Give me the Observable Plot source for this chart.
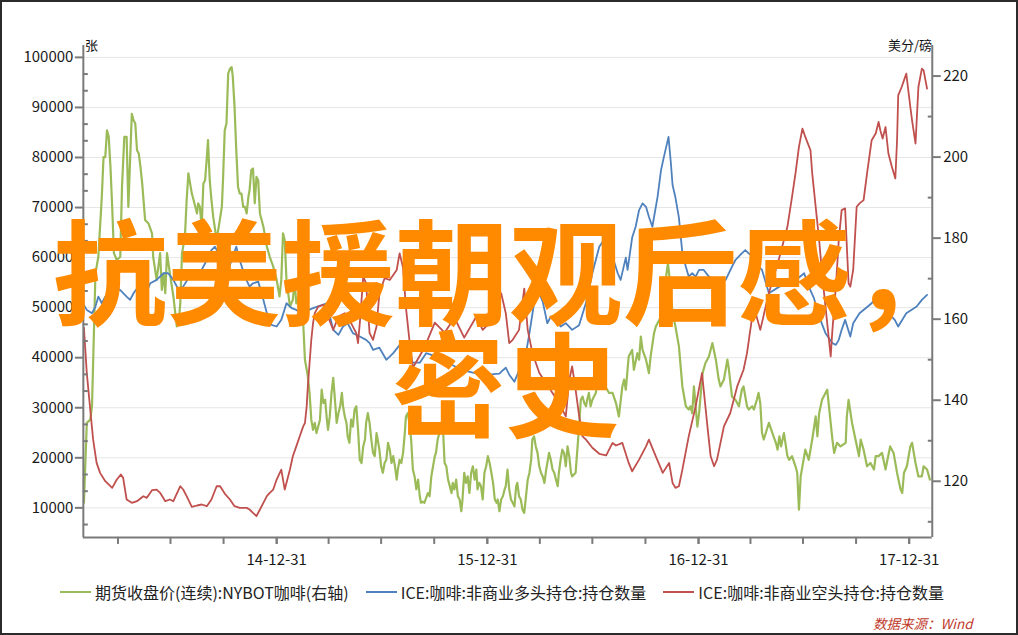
<!DOCTYPE html>
<html>
<head>
<meta charset="utf-8">
<script src="https://cdn.jsdelivr.net/npm/d3@7"></script>
<script src="https://cdn.jsdelivr.net/npm/@observablehq/plot@0.6"></script>
<style>
  html, body { margin: 0; padding: 0; background: #fff; }
  #wrap { position: relative; width: 1018px; height: 635px; box-sizing: border-box; border: 2px solid #2b2b2b; overflow: hidden; background: #fff; font-family: "Noto Sans CJK SC", "Noto Sans", sans-serif; }
  #chart { position: absolute; left: -2px; top: -2px; }
  .unit { position: absolute; font-size: 13px; color: #111; line-height: 1; }
  #legend { position: absolute; left: 58px; top: 578px; display: flex; align-items: center; font-size: 16px; color: #222; white-space: nowrap; }
  #legend .sw { display: inline-block; width: 31px; height: 2px; margin-right: 4px; }
  #legend .item { display: flex; align-items: center; margin-right: 17px; }
  #source { position: absolute; left: 871px; top: 611px; font-size: 13.5px; font-style: italic; color: #c0392b; }
  .ov { position: absolute; font-size: 114px; line-height: 111px; font-weight: 700; color: #ff8a00; white-space: nowrap; }
  .ov .comma { display: inline-block; width: 40px; overflow: visible; }
</style>
</head>
<body>
<div id="wrap">
  <div id="chart"></div>
  <div class="unit" style="left:83px;top:36px;">张</div>
  <div class="unit" style="right:84px;top:36px;">美分/磅</div>
  <div id="legend"></div>
  <div id="source">数据来源：Wind</div>
  <div class="ov" style="left:51px;top:209px;">抗美援朝观后感<span class="comma">，</span></div>
  <div class="ov" style="left:389px;top:321px;">密史</div>
</div>
<script>
// ---------- Data ----------
const seriesNames = [
  "期货收盘价(连续):NYBOT咖啡(右轴)",
  "ICE:咖啡:非商业多头持仓:持仓数量",
  "ICE:咖啡:非商业空头持仓:持仓数量"
];
const seriesColors = ["#9bbb59", "#4f81bd", "#c0504d"];

// NYBOT coffee close, US cents / lb (right axis)
const coffeePrice = [
["2014-01-31",114.7],["2014-02-05",134.4],["2014-02-11",135.2],["2014-02-14",138.5],["2014-02-20",171.3],["2014-02-25",175.4],
["2014-03-03",190.2],["2014-03-06",200.0],["2014-03-09",200.0],["2014-03-12",206.6],["2014-03-15",205.0],["2014-03-18",197.6],
["2014-03-21",187.7],["2014-03-24",176.3],["2014-03-29",174.6],["2014-04-04",175.4],["2014-04-07",192.7],["2014-04-11",205.0],
["2014-04-15",205.0],["2014-04-18",187.7],["2014-04-21",199.2],["2014-04-24",210.7],["2014-04-27",209.1],["2014-04-30",208.3],
["2014-05-03",201.7],["2014-05-06",200.9],["2014-05-09",197.6],["2014-05-12",193.5],["2014-05-17",184.5],["2014-05-23",183.6],
["2014-05-29",181.2],["2014-05-31",175.4],["2014-06-06",169.7],["2014-06-12",176.3],["2014-06-15",167.2],["2014-06-18",171.3],
["2014-06-21",166.4],["2014-06-24",176.3],["2014-06-29",171.3],["2014-07-05",165.6],["2014-07-11",158.2],["2014-07-14",158.9],
["2014-07-17",163.9],["2014-07-20",176.3],["2014-07-25",180.3],["2014-07-28",189.4],["2014-07-31",196.0],["2014-08-03",193.5],
["2014-08-06",191.0],["2014-08-09",189.4],["2014-08-15",186.1],["2014-08-17",188.6],["2014-08-20",187.7],["2014-08-23",182.8],
["2014-08-26",193.5],["2014-08-29",194.3],["2014-09-01",200.0],["2014-09-03",204.2],["2014-09-06",194.3],["2014-09-09",189.4],
["2014-09-12",185.3],["2014-09-18",179.5],["2014-09-27",187.7],["2014-09-29",194.3],["2014-10-02",206.6],["2014-10-05",208.3],
["2014-10-08",220.6],["2014-10-11",221.8],["2014-10-14",222.2],["2014-10-16",219.8],["2014-10-19",212.4],["2014-10-22",201.7],
["2014-10-25",192.7],["2014-10-28",191.0],["2014-10-31",191.0],["2014-11-03",187.7],["2014-11-06",187.7],["2014-11-09",186.1],
["2014-11-12",190.2],["2014-11-14",191.8],["2014-11-17",196.8],["2014-11-20",197.2],["2014-11-23",188.6],["2014-11-26",195.1],
["2014-11-29",194.3],["2014-12-02",186.1],["2014-12-08",182.8],["2014-12-14",177.9],["2014-12-19",175.4],["2014-12-25",173.0],
["2014-12-31",169.7],["2015-01-05",165.6],["2015-01-08",169.7],["2015-01-11",181.2],["2015-01-14",179.5],["2015-01-17",169.7],
["2015-01-23",163.1],["2015-01-28",164.8],["2015-01-31",169.7],["2015-02-03",163.9],["2015-02-09",166.4],["2015-02-15",159.0],
["2015-02-18",150.0],["2015-02-23",145.9],["2015-02-26",141.8],["2015-03-01",135.2],["2015-03-04",132.7],["2015-03-07",134.4],
["2015-03-10",131.9],["2015-03-13",133.5],["2015-03-16",135.2],["2015-03-19",142.6],["2015-03-22",139.3],["2015-03-25",140.1],
["2015-03-28",135.2],["2015-03-30",132.7],["2015-04-02",136.0],["2015-04-05",141.8],["2015-04-08",145.5],["2015-04-11",140.1],
["2015-04-14",134.4],["2015-04-17",136.8],["2015-04-20",138.5],["2015-04-23",141.8],["2015-04-25",138.5],["2015-04-28",136.0],
["2015-05-01",134.4],["2015-05-03",131.1],["2015-05-06",129.5],["2015-05-09",135.2],["2015-05-12",133.5],["2015-05-15",137.7],
["2015-05-18",138.5],["2015-05-21",132.7],["2015-05-24",125.3],["2015-05-27",124.5],["2015-05-30",128.6],["2015-06-02",130.3],
["2015-06-04",134.4],["2015-06-07",136.8],["2015-06-10",134.4],["2015-06-13",130.3],["2015-06-16",127.0],["2015-06-19",126.2],
["2015-06-22",131.9],["2015-06-24",130.3],["2015-06-27",127.8],["2015-06-30",123.7],["2015-07-03",122.1],["2015-07-06",124.5],
["2015-07-09",125.3],["2015-07-12",129.5],["2015-07-15",127.8],["2015-07-18",124.5],["2015-07-21",126.2],["2015-07-24",123.7],
["2015-07-27",120.4],["2015-07-29",122.9],["2015-08-01",125.3],["2015-08-04",124.5],["2015-08-07",127.0],["2015-08-10",131.9],
["2015-08-12",136.0],["2015-08-15",136.8],["2015-08-18",134.4],["2015-08-21",130.3],["2015-08-24",122.9],["2015-08-27",121.2],
["2015-08-30",118.0],["2015-09-02",120.4],["2015-09-05",116.3],["2015-09-07",114.7],["2015-09-10",115.0],["2015-09-13",114.7],
["2015-09-19",117.1],["2015-09-22",116.3],["2015-09-25",121.2],["2015-09-27",122.9],["2015-10-01",126.2],["2015-10-03",127.0],
["2015-10-06",130.3],["2015-10-09",131.9],["2015-10-12",134.4],["2015-10-15",133.5],["2015-10-18",124.5],["2015-10-21",123.7],
["2015-10-24",120.4],["2015-10-27",118.8],["2015-10-30",117.1],["2015-11-01",119.6],["2015-11-04",118.0],["2015-11-07",120.4],
["2015-11-10",116.3],["2015-11-13",115.5],["2015-11-16",112.6],["2015-11-18",115.5],["2015-11-21",122.1],["2015-11-24",119.6],
["2015-11-27",121.2],["2015-11-30",117.1],["2015-12-03",122.1],["2015-12-06",123.7],["2015-12-09",120.4],["2015-12-12",122.9],
["2015-12-14",118.0],["2015-12-17",119.6],["2015-12-20",118.8],["2015-12-23",115.5],["2015-12-26",122.1],["2015-12-29",123.7],
["2016-01-01",126.2],["2016-01-04",124.5],["2016-01-07",122.1],["2016-01-10",119.6],["2016-01-13",115.5],["2016-01-16",114.7],
["2016-01-18",115.5],["2016-01-21",112.6],["2016-01-24",115.5],["2016-01-27",116.3],["2016-01-30",118.0],["2016-02-01",118.8],
["2016-02-04",122.9],["2016-02-07",118.0],["2016-02-10",115.5],["2016-02-13",114.7],["2016-02-16",113.8],["2016-02-19",118.8],
["2016-02-21",119.6],["2016-02-24",116.3],["2016-02-27",115.5],["2016-03-01",113.0],["2016-03-04",112.2],["2016-03-07",116.3],
["2016-03-10",120.4],["2016-03-13",122.1],["2016-03-16",125.3],["2016-03-18",130.3],["2016-03-21",131.1],["2016-03-24",128.6],
["2016-03-27",127.0],["2016-03-30",123.7],["2016-04-02",122.1],["2016-04-05",121.2],["2016-04-08",119.6],["2016-04-11",122.9],
["2016-04-13",124.5],["2016-04-16",127.0],["2016-04-19",125.3],["2016-04-22",122.9],["2016-04-25",122.1],["2016-04-28",120.4],
["2016-05-01",118.8],["2016-05-03",122.1],["2016-05-06",125.3],["2016-05-09",127.8],["2016-05-12",127.0],["2016-05-15",123.7],
["2016-05-18",128.6],["2016-05-21",126.2],["2016-05-24",122.1],["2016-05-26",121.2],["2016-06-01",122.1],["2016-06-04",127.8],
["2016-06-07",133.5],["2016-06-10",140.1],["2016-06-13",140.9],["2016-06-16",139.3],["2016-06-19",138.5],["2016-06-21",140.1],
["2016-06-24",141.8],["2016-06-27",138.5],["2016-06-30",140.1],["2016-07-06",141.8],["2016-07-12",146.7],["2016-07-20",144.0],
["2016-07-29",141.8],["2016-08-04",141.8],["2016-08-10",139.3],["2016-08-15",136.0],["2016-08-21",143.4],["2016-08-24",145.1],
["2016-08-27",142.6],["2016-09-01",150.8],["2016-09-07",152.4],["2016-09-10",147.5],["2016-09-16",151.6],["2016-09-19",150.0],
["2016-09-22",155.7],["2016-09-25",152.4],["2016-10-01",150.0],["2016-10-06",146.7],["2016-10-09",150.8],["2016-10-15",156.6],
["2016-10-18",158.2],["2016-10-24",159.8],["2016-10-27",160.6],["2016-10-30",164.8],["2016-11-01",167.2],["2016-11-04",169.7],
["2016-11-08",173.8],["2016-11-10",171.3],["2016-11-13",166.4],["2016-11-16",161.5],["2016-11-21",158.2],["2016-11-27",153.3],
["2016-12-03",143.4],["2016-12-09",138.5],["2016-12-14",137.7],["2016-12-17",138.5],["2016-12-20",136.8],["2016-12-23",143.4],
["2016-12-26",138.5],["2016-12-29",133.5],["2017-01-01",136.8],["2017-01-04",141.8],["2017-01-07",146.7],["2017-01-12",149.2],
["2017-01-18",150.8],["2017-01-24",154.1],["2017-01-30",150.0],["2017-02-04",145.1],["2017-02-07",143.4],["2017-02-13",145.1],
["2017-02-19",150.0],["2017-02-21",148.3],["2017-02-27",140.9],["2017-03-05",140.1],["2017-03-11",138.5],["2017-03-16",142.6],
["2017-03-19",143.4],["2017-03-25",138.5],["2017-03-28",137.7],["2017-04-03",138.5],["2017-04-06",137.7],["2017-04-11",140.1],
["2017-04-14",141.8],["2017-04-17",139.3],["2017-04-20",131.9],["2017-04-23",130.3],["2017-05-02",134.4],["2017-05-08",131.9],
["2017-05-14",129.5],["2017-05-17",127.8],["2017-05-20",131.1],["2017-05-23",128.6],["2017-05-28",131.9],["2017-06-03",126.2],
["2017-06-06",125.3],["2017-06-11",126.2],["2017-06-17",123.7],["2017-06-20",122.1],["2017-06-23",113.0],["2017-06-26",121.2],
["2017-07-01",125.3],["2017-07-04",127.8],["2017-07-10",125.3],["2017-07-16",130.3],["2017-07-22",136.0],["2017-07-25",131.1],
["2017-07-28",136.8],["2017-08-02",140.1],["2017-08-08",141.8],["2017-08-11",142.6],["2017-08-14",138.5],["2017-08-20",130.3],
["2017-08-23",127.0],["2017-08-28",129.5],["2017-09-03",128.6],["2017-09-12",129.5],["2017-09-14",136.0],["2017-09-17",140.1],
["2017-09-23",134.4],["2017-09-29",130.3],["2017-10-05",126.2],["2017-10-08",130.3],["2017-10-13",127.8],["2017-10-19",123.7],
["2017-10-25",124.5],["2017-10-31",122.9],["2017-11-03",126.2],["2017-11-08",126.2],["2017-11-14",127.0],["2017-11-20",122.9],
["2017-11-28",128.6],["2017-12-04",127.0],["2017-12-10",122.1],["2017-12-16",118.0],["2017-12-19",117.1],["2017-12-22",122.1],
["2017-12-27",123.7],["2018-01-02",128.6],["2018-01-05",129.5],["2018-01-11",124.5],["2018-01-16",121.2],["2018-01-22",121.2],
["2018-01-25",123.7],["2018-01-31",122.9],["2018-02-05",120.4]
];

// ICE coffee non-commercial long positions, contracts (left axis)
const longPositions = [
["2014-01-31",50500],["2014-02-05",49550],["2014-02-14",48890],["2014-02-20",50220],["2014-02-25",52210],["2014-03-03",50880],
["2014-03-09",52210],["2014-03-24",54200],["2014-04-04",53500],["2014-04-15",52210],["2014-04-21",51550],["2014-04-27",52880],
["2014-05-06",54340],["2014-05-14",54200],["2014-05-20",53200],["2014-05-26",54870],["2014-06-06",55540],["2014-06-18",56870],
["2014-06-26",56870],["2014-07-05",55540],["2014-07-14",53540],["2014-07-22",54200],["2014-07-31",55870],["2014-08-09",57530],
["2014-08-23",57530],["2014-09-01",59520],["2014-09-09",61510],["2014-09-15",62180],["2014-09-21",60860],["2014-09-29",57530],
["2014-10-08",57530],["2014-10-16",60180],["2014-10-22",62180],["2014-10-28",59520],["2014-11-06",56200],["2014-11-14",54200],
["2014-11-20",54870],["2014-11-29",55200],["2014-12-05",52880],["2014-12-14",48890],["2014-12-22",46560],["2014-12-31",46230],
["2015-01-08",47560],["2015-01-17",50880],["2015-01-26",49890],["2015-02-03",49550],["2015-02-12",48890],["2015-03-04",49890],
["2015-03-28",50880],["2015-04-08",45560],["2015-04-17",44570],["2015-04-25",46230],["2015-05-03",46890],["2015-05-12",44900],
["2015-05-24",44230],["2015-06-04",43570],["2015-06-10",42900],["2015-06-16",41580],["2015-06-27",42000],["2015-07-09",39580],
["2015-07-21",40910],["2015-08-01",42500],["2015-08-12",41500],["2015-08-24",39000],["2015-09-05",39000],["2015-09-16",40910],
["2015-10-09",40000],["2015-11-01",38500],["2015-11-18",37500],["2015-12-06",37000],["2015-12-23",36600],["2016-01-10",36700],
["2016-01-21",36800],["2016-01-27",37500],["2016-02-01",38000],["2016-02-07",36600],["2016-02-16",35200],["2016-02-24",37400],
["2016-03-04",38900],["2016-03-13",44900],["2016-03-21",50880],["2016-03-30",52880],["2016-04-05",51210],["2016-04-13",46890],
["2016-04-19",48220],["2016-04-28",47560],["2016-05-06",46230],["2016-05-15",46890],["2016-05-26",45560],["2016-06-07",46500],
["2016-06-19",51000],["2016-06-30",56870],["2016-07-12",62180],["2016-07-24",64170],["2016-08-04",60180],["2016-08-13",56870],
["2016-08-18",55540],["2016-08-27",60000],["2016-08-30",57530],["2016-09-07",64000],["2016-09-13",66160],["2016-09-19",69500],
["2016-09-25",70830],["2016-10-01",70150],["2016-10-06",68160],["2016-10-12",66160],["2016-10-21",72150],["2016-10-27",77470],
["2016-11-01",80120],["2016-11-09",84110],["2016-11-13",79000],["2016-11-16",74500],["2016-11-21",72000],["2016-11-27",68000],
["2016-12-03",60860],["2016-12-09",58190],["2016-12-14",56200],["2016-12-20",56870],["2016-12-26",56200],["2017-01-01",57530],
["2017-01-09",57530],["2017-01-18",56200],["2017-01-30",55540],["2017-02-16",55540],["2017-02-27",58190],["2017-03-05",59520],
["2017-03-16",60860],["2017-03-22",61510],["2017-04-03",60180],["2017-04-14",58190],["2017-04-20",57530],["2017-05-02",52880],
["2017-05-20",54200],["2017-06-11",54870],["2017-07-02",56870],["2017-07-10",54200],["2017-07-19",51880],["2017-07-28",48220],
["2017-08-08",44900],["2017-08-20",42900],["2017-08-26",42570],["2017-08-31",43570],["2017-09-05",45560],["2017-09-11",47560],
["2017-09-20",44230],["2017-09-25",46890],["2017-10-06",48890],["2017-10-27",50880],["2017-11-05",52210],["2017-11-20",49550],
["2017-12-06",47560],["2017-12-12",46230],["2017-12-26",48890],["2018-01-13",50220],["2018-01-22",51550],["2018-01-31",52540]
];

// ICE coffee non-commercial short positions, contracts (left axis)
const shortPositions = [
["2014-01-31",46000],["2014-02-05",36920],["2014-02-11",29610],["2014-02-16",23630],["2014-02-22",18980],["2014-02-28",16990],
["2014-03-09",15320],["2014-03-21",14000],["2014-03-29",15660],["2014-04-05",16650],["2014-04-09",15990],["2014-04-15",11670],
["2014-04-24",11000],["2014-05-03",11330],["2014-05-14",12330],["2014-05-20",12000],["2014-05-29",13520],["2014-06-06",13660],
["2014-06-12",13000],["2014-06-21",11330],["2014-06-29",11670],["2014-07-05",11330],["2014-07-17",14320],["2014-07-22",13660],
["2014-07-28",12330],["2014-08-06",10210],["2014-08-15",10470],["2014-08-23",10670],["2014-09-01",10330],["2014-09-09",11670],
["2014-09-18",14320],["2014-09-24",14320],["2014-10-02",12860],["2014-10-11",11670],["2014-10-19",10330],["2014-10-28",10000],
["2014-11-09",10000],["2014-11-14",9670],["2014-11-20",9000],["2014-11-26",8330],["2014-12-02",9670],["2014-12-08",11000],
["2014-12-14",12330],["2014-12-19",13000],["2014-12-25",13660],["2014-12-31",15660],["2015-01-08",17650],["2015-01-14",13660],
["2015-01-23",17650],["2015-01-28",20300],["2015-02-03",22290],["2015-02-09",24290],["2015-02-15",26280],["2015-02-18",26950],
["2015-02-21",30270],["2015-02-23",34260],["2015-02-26",38920],["2015-03-01",43570],["2015-03-04",46890],["2015-03-07",48890],
["2015-03-13",50220],["2015-03-22",50550],["2015-04-08",45560],["2015-04-17",48220],["2015-04-28",48890],["2015-05-06",47560],
["2015-05-18",44900],["2015-05-21",42900],["2015-05-25",48220],["2015-05-30",56200],["2015-06-04",54870],["2015-06-10",44900],
["2015-06-16",43570],["2015-06-22",46230],["2015-06-27",52880],["2015-07-06",55870],["2015-07-15",55540],["2015-07-27",57530],
["2015-08-01",60860],["2015-08-07",58000],["2015-08-12",50000],["2015-08-18",43570],["2015-08-24",38000],["2015-09-13",42000],
["2015-10-01",47000],["2015-10-18",45000],["2015-11-04",48000],["2015-11-21",44000],["2015-12-12",48220],["2015-12-23",45560],
["2016-01-04",46890],["2016-01-16",52210],["2016-01-24",52880],["2016-02-01",48890],["2016-02-07",42900],["2016-02-13",43570],
["2016-02-24",45560],["2016-03-04",53800],["2016-03-10",45560],["2016-03-18",41000],["2016-03-30",37000],["2016-04-16",34000],
["2016-05-03",31000],["2016-05-15",28280],["2016-05-21",35590],["2016-05-26",38250],["2016-06-01",33600],["2016-06-07",28500],
["2016-06-13",24290],["2016-06-19",23630],["2016-06-30",22000],["2016-07-12",20800],["2016-07-24",20470],["2016-08-04",22970],
["2016-08-10",22450],["2016-08-21",22970],["2016-09-01",18980],["2016-09-07",17300],["2016-09-19",19640],["2016-10-01",22290],
["2016-10-06",23630],["2016-10-18",20300],["2016-10-30",16990],["2016-11-10",18980],["2016-11-16",14980],["2016-11-21",14000],
["2016-11-27",14320],["2016-12-03",17650],["2016-12-14",24290],["2016-12-26",30270],["2017-01-06",36920],["2017-01-16",25620],
["2017-01-21",20300],["2017-01-27",18310],["2017-02-01",19640],["2017-02-13",26280],["2017-02-24",28950],["2017-03-08",34260],
["2017-03-19",37590],["2017-03-25",40910],["2017-04-03",48220],["2017-04-09",48890],["2017-04-17",45560],["2017-05-02",53000],
["2017-05-20",60000],["2017-06-03",66160],["2017-06-11",72150],["2017-06-17",76810],["2017-06-23",82110],["2017-06-29",85780],
["2017-07-04",84110],["2017-07-13",81450],["2017-07-16",76810],["2017-07-22",70150],["2017-07-28",63510],["2017-08-02",56870],
["2017-08-08",50220],["2017-08-14",43570],["2017-08-17",40240],["2017-08-20",45560],["2017-08-26",54200],["2017-08-31",63510],
["2017-09-05",69490],["2017-09-11",69830],["2017-09-14",62180],["2017-09-17",54870],["2017-09-20",54200],["2017-09-25",57530],
["2017-10-01",70150],["2017-10-06",70830],["2017-10-13",71490],["2017-10-19",76810],["2017-10-27",83450],["2017-11-03",84780],
["2017-11-08",87100],["2017-11-11",85440],["2017-11-15",83790],["2017-11-20",86090],["2017-11-25",80800],["2017-12-01",78130],
["2017-12-07",75800],["2017-12-10",83450],["2017-12-12",92420],["2017-12-18",94080],["2017-12-26",96750],["2018-01-02",90090],
["2018-01-05",87430],["2018-01-11",82790],["2018-01-16",94080],["2018-01-22",97750],["2018-01-25",97410],["2018-01-31",93760]
];

// Axis ticks
const leftTicks = [10000, 20000, 30000, 40000, 50000, 60000, 70000, 80000, 90000, 100000];
const rightTicks = [120, 140, 160, 180, 200, 220];
const yearTicks = ["2014-12-31", "2015-12-31", "2016-12-31", "2017-12-31"];
const quarterTicks = ["2014-03-31","2014-06-30","2014-09-30","2014-12-31","2015-03-31","2015-06-30","2015-09-30","2015-12-31",
  "2016-03-31","2016-06-30","2016-09-30","2016-12-31","2017-03-31","2017-06-30","2017-09-30","2017-12-31"];
const xRange = ["2014-01-30", "2018-02-09"];
const leftRange = [4089, 102393];
const rightAnchor = [[120, 15311], [220, 96271]]; // right-axis value ↔ left-axis value

// ---------- Build ----------
const parse = d3.utcParse("%Y-%m-%d");
const r2l = d3.scaleLinear().domain([rightAnchor[0][0], rightAnchor[1][0]]).range([rightAnchor[0][1], rightAnchor[1][1]]);
const rows = (arr, f = v => v) => arr.map(([d, v]) => ({date: parse(d), value: v, y: f(v)}));
const gRows = rows(coffeePrice, r2l);
const bRows = rows(longPositions);
const rRows = rows(shortPositions);

const xDom = xRange.map(parse);
const minorL = [];
for (let v = 10000 - 10000/3; v <= leftRange[1]; v += 10000/3) if (v >= leftRange[0]) minorL.push(v);
const minorLonly = minorL.filter(v => !leftTicks.some(t => Math.abs(t - v) < 1));
const minorR = [];
for (let v = 110; v <= 225; v += 10) if (!rightTicks.includes(v)) minorR.push(r2l(v));

const axisGray = "#7a7a7a";
const font = '"Noto Sans CJK SC", "Noto Sans", sans-serif';

const chart = Plot.plot({
  width: 1018,
  height: 578,
  marginLeft: 83,
  marginRight: 84.4,
  marginTop: 45,
  marginBottom: 40,
  style: {fontFamily: font, fontSize: "15px", background: "transparent", color: "#222"},
  x: {type: "utc", domain: xDom, axis: null},
  y: {domain: leftRange, axis: null},
  marks: [
    Plot.ruleY(leftTicks, {stroke: "#e6e6e6", strokeWidth: 1}),
    // series
    Plot.line(gRows, {x: "date", y: "y", stroke: seriesColors[0], strokeWidth: 2.2, curve: "linear"}),
    Plot.line(bRows, {x: "date", y: "y", stroke: seriesColors[1], strokeWidth: 1.8, curve: "linear"}),
    Plot.line(rRows, {x: "date", y: "y", stroke: seriesColors[2], strokeWidth: 1.8, curve: "linear"}),
    // axis lines
    Plot.ruleX([xDom[0]], {stroke: axisGray, strokeWidth: 2}),
    Plot.ruleX([xDom[1]], {stroke: axisGray, strokeWidth: 2}),
    Plot.ruleY([leftRange[0]], {stroke: axisGray, strokeWidth: 2}),
    // left axis
    Plot.axisY(leftTicks, {anchor: "left", label: null, tickSize: 8, tickPadding: 2, stroke: axisGray, strokeWidth: 2, fill: "#1a1a1a", fontSize: 15, tickFormat: d3.format("d")}),
    Plot.axisY(minorLonly, {anchor: "left", label: null, tickSize: 5, dx: 5, stroke: axisGray, strokeWidth: 2, tickFormat: () => ""}),
    // right axis
    Plot.axisY(rightTicks.map(r2l), {anchor: "right", label: null, tickSize: 8, tickPadding: 3, stroke: axisGray, strokeWidth: 2, fill: "#1a1a1a", fontSize: 15, tickFormat: d => d3.format("d")(Math.round(r2l.invert(d)))}),
    Plot.axisY(minorR, {anchor: "right", label: null, tickSize: 5, dx: -5, stroke: axisGray, strokeWidth: 2, tickFormat: () => ""}),
    // bottom axis
    Plot.axisX(quarterTicks.map(parse), {anchor: "bottom", label: null, tickSize: 7, stroke: axisGray, strokeWidth: 2, tickFormat: () => ""}),
    Plot.axisX(yearTicks.map(parse), {anchor: "bottom", label: null, tickSize: 7, tickPadding: 10, stroke: axisGray, strokeWidth: 2, fill: "#1a1a1a", fontSize: 15, tickFormat: d3.utcFormat("%y-%m-%d")})
  ]
});
document.getElementById("chart").appendChild(chart);

// legend
const legend = document.getElementById("legend");
seriesNames.forEach((name, i) => {
  const item = document.createElement("div");
  item.className = "item";
  const sw = document.createElement("span");
  sw.className = "sw";
  sw.style.background = seriesColors[i];
  const tx = document.createElement("span");
  tx.textContent = name;
  item.appendChild(sw); item.appendChild(tx);
  legend.appendChild(item);
});
</script>
</body>
</html>
